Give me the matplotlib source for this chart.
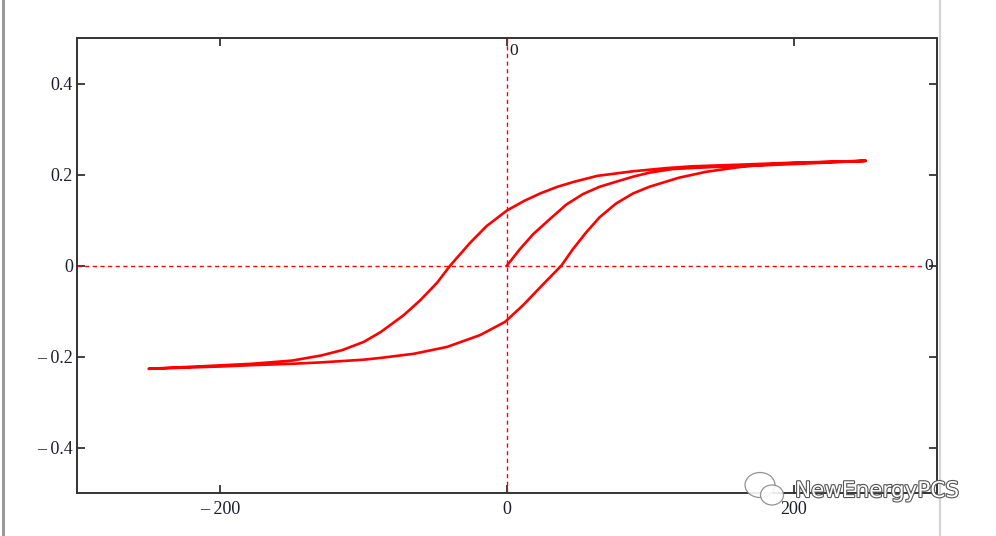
import matplotlib
matplotlib.use("Agg")
import matplotlib.pyplot as plt
import matplotlib.patheffects as pe
from matplotlib.patches import Ellipse
from matplotlib.lines import Line2D

# ---- data (H, B) ----
init_H = [0, 9, 18.3, 29.9, 41.4, 53, 64.6, 76, 87.7, 99.3, 115.5, 141, 170, 200, 250]
init_B = [0, 0.036, 0.069, 0.102, 0.134, 0.157, 0.173, 0.184, 0.195, 0.204, 0.212, 0.216,
          0.219, 0.223, 0.230]

desc_H = [250, 200, 166, 129, 110.9, 87.7, 63, 46.8, 35.2, 23.6, 12, 0, -14.1, -25.7,
          -39.6, -48.8, -60.4, -72, -88, -100, -115, -130, -150, -178, -210, -250]
desc_B = [0.230, 0.226, 0.222, 0.218, 0.214, 0.207, 0.197, 0.184, 0.173, 0.159, 0.142, 0.121,
          0.087, 0.050, 0.0, -0.038, -0.076, -0.109, -0.146, -0.168, -0.186, -0.198, -0.209,
          -0.216, -0.221, -0.227]

asc_H = [-250, -200, -178, -150, -130, -100, -88, -65, -41.9, -18.8, -1.4, 11.3, 25, 38,
         46, 55.3, 64.6, 76, 87.7, 99.3, 120, 139, 166, 190, 250]
asc_B = [-0.227, -0.222, -0.219, -0.216, -0.213, -0.207, -0.203, -0.194, -0.179, -0.153,
         -0.124, -0.087, -0.042, 0.0, 0.036, 0.073, 0.106, 0.136, 0.158, 0.173, 0.193, 0.206,
         0.218, 0.224, 0.230]

x_ticks = [-200, 0, 200]
x_labels = ["\u2013 200", "0", "200"]
y_ticks = [-0.4, -0.2, 0, 0.2, 0.4]
y_labels = ["\u2013 0.4", "\u2013 0.2", "0", "0.2", "0.4"]

H = init_H + desc_H + asc_H
B = init_B + desc_B + asc_B

fig = plt.figure(figsize=(9.96, 5.36), dpi=100)
ax = fig.add_axes([77/996, 1-493/536, 860/996, 455/536])

ax.plot(H, B, color="#ff0000", lw=1.9, solid_joinstyle="round", zorder=3)

ax.set_xlim(-300, 300)
ax.set_ylim(-0.5, 0.5)

# marker lines at 0
ax.plot([0, 0], [-0.5, 0.5], color="#ff0000", lw=1.0, ls=(0, (3, 2.5)), zorder=2)
ax.plot([-300, 290], [0, 0], color="#ff0000", lw=1.0, ls=(0, (3, 2.5)), zorder=2)

serif = ["Liberation Serif", "DejaVu Serif"]
lab_col = "#1c1c2c"
ax.text(2, 0.488, "0", ha="left", va="top", fontsize=12.5, family=serif, color=lab_col)
ax.text(291, 0, "0", ha="left", va="center", fontsize=12.5, family=serif, color=lab_col)

ax.set_xticks(x_ticks)
ax.set_xticklabels(x_labels, family=serif, fontsize=13, color=lab_col)
ax.set_yticks(y_ticks)
ax.set_yticklabels(y_labels, family=serif, fontsize=13, color=lab_col)
ax.tick_params(direction="in", length=6, width=1.3, color="#333333",
               top=True, right=True, pad=3)
ax.tick_params(axis="x", pad=6)
for s in ax.spines.values():
    s.set_color("#333333")
    s.set_linewidth(1.4)

# window borders
fig.add_artist(Line2D([2.5/996, 2.5/996], [0, 1], color="#9a9a9a", lw=2.2))
fig.add_artist(Line2D([939.5/996, 939.5/996], [0, 1], color="#d4d4d4", lw=1.6))

# watermark
for (cx, cy, w, h) in [(760, 485, 30, 25), (772, 495, 23, 20)]:
    e = Ellipse((cx/996, 1-cy/536), w/996, h/536, transform=fig.transFigure,
                facecolor="white", edgecolor="#888888", lw=0.9, alpha=0.9)
    fig.add_artist(e)
fig.text(795/996, 1-491/536, "NewEnergyPCS", ha="left", va="center", fontsize=15.5,
         family=["DejaVu Sans"], color="white",
         path_effects=[pe.withStroke(linewidth=1.6, foreground="#555555")])

fig.savefig("out.png", dpi=100)
